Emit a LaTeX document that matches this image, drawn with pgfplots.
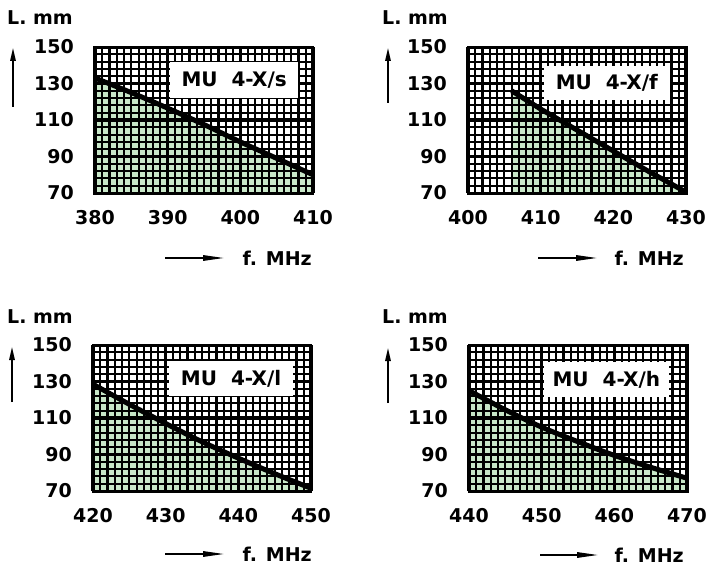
\documentclass[border=0pt]{standalone}
\usepackage{fontspec}
\setmainfont{DejaVu Sans}
\usepackage{pgfplots}
\pgfplotsset{compat=1.18}
\usetikzlibrary{arrows.meta}
\definecolor{fillgreen}{RGB}{200,231,200}

\pgfplotsset{
  base/.style={scale only axis, width=218pt, height=146pt, anchor=south west,
    ymin=70, ymax=150},
  under/.style={base, hide axis},
  panel/.style={
    base,
    ytick={70,90,110,130,150},
    minor ytick={70,74,...,150},
    extra y ticks={110}, extra y tick labels={},
    extra y tick style={grid=major},
    xmajorgrids=true, xminorgrids=true, ymajorgrids=false, yminorgrids=true,
    tick style={draw=none},
    axis line style={line width=3pt},
    minor grid style={black, line width=2.1pt},
    major grid style={black, line width=3.2pt},
    ticklabel style={font=\fontsize{19}{21}\selectfont\bfseries, inner sep=0pt},
    yticklabel style={anchor=east, xshift=-21pt},
    xticklabel style={anchor=north, yshift=-17pt},
  },
  curve/.style={black, line width=5pt},
  area/.style={fill=fillgreen, draw=none},
}
\newcommand{\mutag}[5]{% xmin ymin xmax ymax text
  \fill[white] (axis cs:#1,#2) rectangle (axis cs:#3,#4);
  \node[font=\fontsize{20}{22}\selectfont\bfseries] at (axis cs:{(#1+#3)/2},{(#2+#4)/2}) {#5};
}

\begin{document}
\begin{tikzpicture}[x=1pt,y=1pt]
\useasboundingbox (0,0) rectangle (710,566);

% top left: MU 4-X/s
\begin{axis}[under, at={(95pt,373pt)}, xmin=380, xmax=410]
\addplot[area, smooth] coordinates {(380,133) (385,125) (390,116.5) (395,107.5) (400,98) (405,89) (410,80)} \closedcycle;
\end{axis}
\begin{axis}[panel, at={(95pt,373pt)}, xmin=380, xmax=410,
  xtick={380,390,400,410}, xticklabels={380,390,400,410},
  yticklabels={70,90,110,130,150}, minor xtick={380,381,...,410}]
\addplot[curve, smooth] coordinates {(380,133) (385,125) (390,116.5) (395,107.5) (400,98) (405,89) (410,80)};
\mutag{390.3}{122}{408}{142}{MU\ \ 4-X/s}
\end{axis}

% top right: MU 4-X/f
\begin{axis}[under, at={(468pt,373pt)}, xmin=400, xmax=430]
\addplot[area] coordinates {(406,126) (410,116) (415,104.5) (420,93) (425,81.5) (430,70.5)} \closedcycle;
\end{axis}
\begin{axis}[panel, at={(468pt,373pt)}, xmin=400, xmax=430,
  xtick={400,410,420,430}, xticklabels={400,410,420,430},
  yticklabels={70,90,110,130,150}, minor xtick={400,401,...,430}]
\addplot[curve] coordinates {(406,126) (410,116) (415,104.5) (420,93) (425,81.5) (430,70.5)};
\mutag{410.4}{121}{427.8}{139.5}{MU\ \ 4-X/f}
\end{axis}

% bottom left: MU 4-X/l
\begin{axis}[under, at={(93pt,75pt)}, xmin=420, xmax=450]
\addplot[area, smooth] coordinates {(420,128.5) (425,117.5) (430,107) (435,97) (440,88) (445,79.5) (450,71.5)} \closedcycle;
\end{axis}
\begin{axis}[panel, at={(93pt,75pt)}, xmin=420, xmax=450,
  xtick={420,430,440,450}, xticklabels={420,430,440,450},
  yticklabels={70,90,110,130,150}, minor xtick={420,421,...,450}]
\addplot[curve, smooth] coordinates {(420,128.5) (425,117.5) (430,107) (435,97) (440,88) (445,79.5) (450,71.5)};
\mutag{430.5}{122}{447.5}{141.2}{MU\ \ 4-X/l}
\end{axis}

% bottom right: MU 4-X/h
\begin{axis}[under, at={(469pt,75pt)}, xmin=440, xmax=470]
\addplot[area, smooth] coordinates {(440,125) (445,114.5) (450,105) (455,97) (460,89.5) (465,83) (470,77)} \closedcycle;
\end{axis}
\begin{axis}[panel, at={(469pt,75pt)}, xmin=440, xmax=470,
  xtick={440,450,460,470}, xticklabels={440,450,460,470},
  yticklabels={70,90,110,130,150}, minor xtick={440,441,...,470}]
\addplot[curve, smooth] coordinates {(440,125) (445,114.5) (450,105) (455,97) (460,89.5) (465,83) (470,77)};
\mutag{450.3}{121.5}{467.5}{140.7}{MU\ \ 4-X/h}
\end{axis}

% axis titles and arrows
\tikzset{lab/.style={font=\fontsize{19}{21}\selectfont\bfseries, inner sep=0pt}}
\node[lab, anchor=west] at (7,548) {L. mm};
\node[lab, anchor=west] at (382,548) {L. mm};
\node[lab, anchor=west] at (7,249) {L. mm};
\node[lab, anchor=west] at (382,249) {L. mm};
\draw[line width=1.5pt, -{Triangle[length=13pt,width=5.5pt]}] (13,459) -- (13,518);
\draw[line width=1.5pt, -{Triangle[length=13pt,width=5.5pt]}] (388,463) -- (388,518);
\draw[line width=1.5pt, -{Triangle[length=13pt,width=5.5pt]}] (12,164) -- (12,219);
\draw[line width=1.5pt, -{Triangle[length=13pt,width=5.5pt]}] (388,163) -- (388,218);
\node[lab, anchor=east] at (312,308) {f. MHz};
\node[lab, anchor=east] at (684,308) {f. MHz};
\node[lab, anchor=east] at (312,12) {f. MHz};
\node[lab, anchor=east] at (684,11) {f. MHz};
\draw[line width=1.5pt, -{Triangle[length=21pt,width=5.5pt]}] (165,308) -- (224,308);
\draw[line width=1.5pt, -{Triangle[length=21pt,width=5.5pt]}] (538,308) -- (597,308);
\draw[line width=1.5pt, -{Triangle[length=21pt,width=5.5pt]}] (165,12) -- (224,12);
\draw[line width=1.5pt, -{Triangle[length=21pt,width=5.5pt]}] (540,11) -- (598,11);
\end{tikzpicture}
\end{document}
